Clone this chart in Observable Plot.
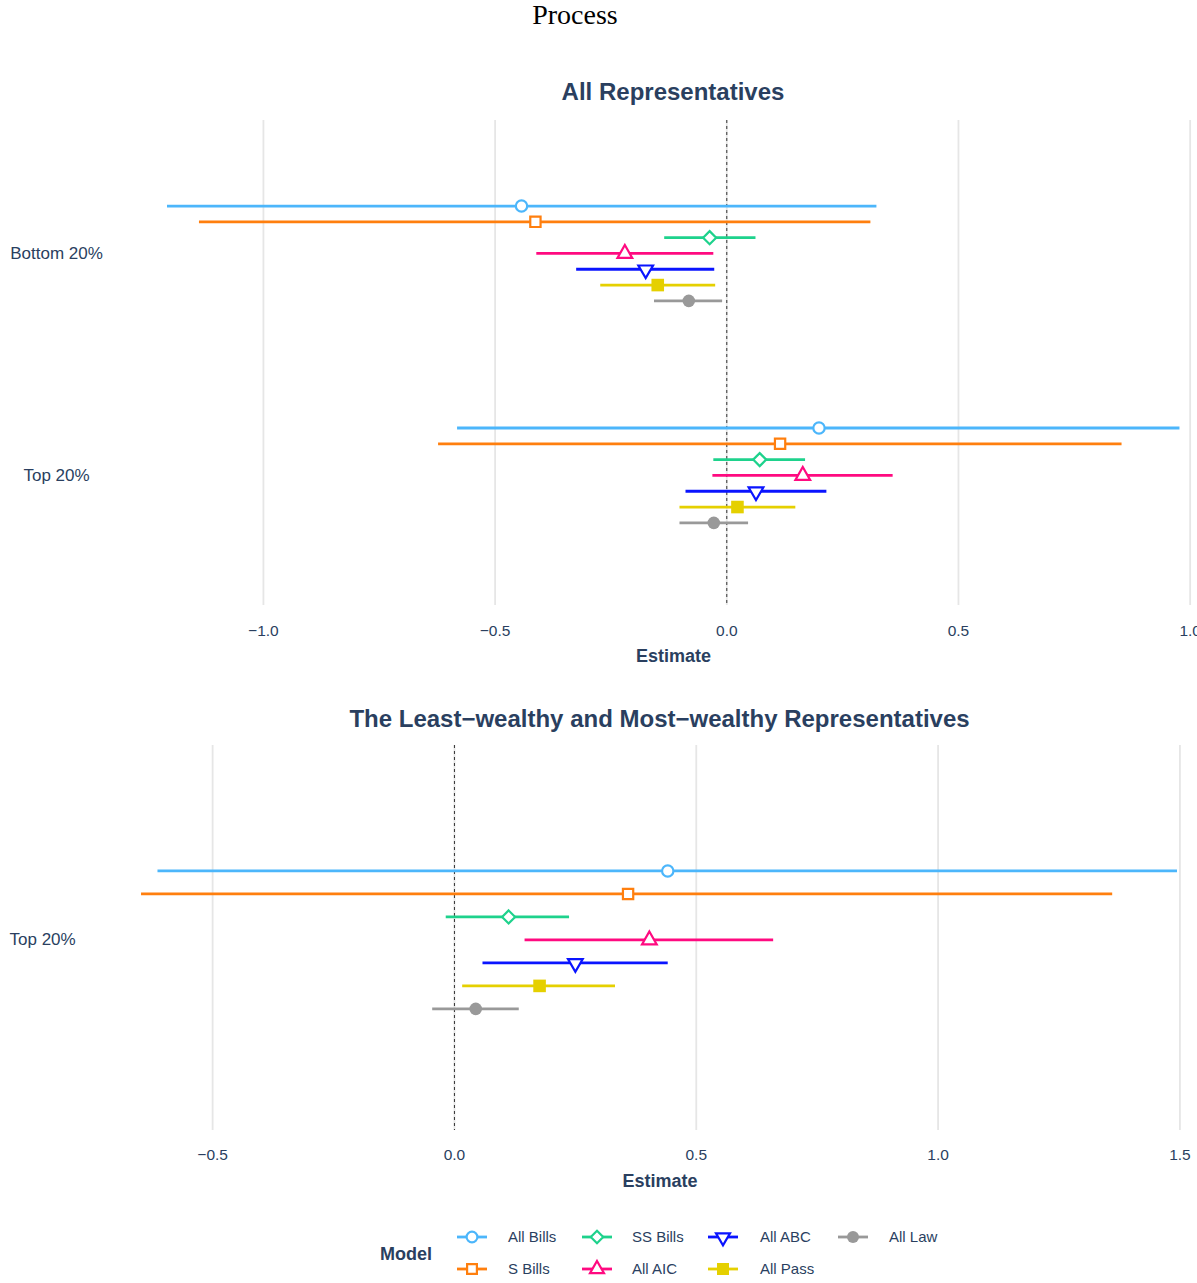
<!DOCTYPE html>
<html><head><meta charset="utf-8">
<script src="https://cdn.jsdelivr.net/npm/d3@7"></script>
<script src="https://cdn.jsdelivr.net/npm/@observablehq/plot@0.6"></script>
<style>
html,body{margin:0;padding:0;background:#fff;}
#root{position:relative;width:1197px;height:1283px;overflow:hidden;font-family:"Liberation Sans",Arial,sans-serif;color:#2a3f5f;}
.abs{position:absolute;white-space:nowrap;}
#root svg{max-width:none !important;}
</style></head><body><div id="root"></div>
<script>
// ---------- data ----------
const models = ["All Bills", "S Bills", "SS Bills", "All AIC", "All ABC", "All Pass", "All Law"];
const modelColors = ["#4cb6fb", "#ff7f0e", "#1ed28c", "#ff0a80", "#0a14ff", "#e5d000", "#999999"];
const modelShapes = ["circle", "square", "diamond", "triangleUp", "triangleDown", "filledSquare", "dot"];

// Panel 1: All Representatives
const allRepGroups = ["Bottom 20%", "Top 20%"];
const allRepBottom20Est = [-0.443, -0.413, -0.037, -0.220, -0.175, -0.149, -0.082];
const allRepBottom20Lo  = [-1.207, -1.138, -0.134, -0.410, -0.324, -0.272, -0.156];
const allRepBottom20Hi  = [ 0.324,  0.311,  0.063, -0.028, -0.026, -0.024, -0.009];
const allRepTop20Est = [ 0.199,  0.115,  0.071,  0.164,  0.063,  0.023, -0.028];
const allRepTop20Lo  = [-0.581, -0.622, -0.028, -0.030, -0.088, -0.101, -0.101];
const allRepTop20Hi  = [ 0.978,  0.853,  0.170,  0.359,  0.216,  0.149,  0.047];

// Panel 2: Least-wealthy and Most-wealthy
const wealthGroups = ["Top 20%"];
const wealthTop20Est = [ 0.441,  0.359,  0.112,  0.403,  0.250,  0.176,  0.044];
const wealthTop20Lo  = [-0.613, -0.647, -0.017,  0.146,  0.059,  0.017, -0.045];
const wealthTop20Hi  = [ 1.495,  1.361,  0.238,  0.660,  0.442,  0.333,  0.134];

const allRepTicks = [-1, -0.5, 0, 0.5, 1];
const wealthTicks = [-0.5, 0, 0.5, 1, 1.5];

// ---------- helpers ----------
const textColor = "#2a3f5f";
const fmt = d3.format(".1f");

function makeSymbol(kind) {
  return {
    draw(ctx, size) {
      const k = Math.sqrt(size / Math.PI) / 6;
      switch (kind) {
        case "circle": { const r = 5.4 * k; ctx.moveTo(r, 0); ctx.arc(0, 0, r, 0, 2 * Math.PI); break; }
        case "dot": { const r = 6 * k; ctx.moveTo(r, 0); ctx.arc(0, 0, r, 0, 2 * Math.PI); break; }
        case "square": { const h = 4.9 * k; ctx.moveTo(-h, -h); ctx.lineTo(h, -h); ctx.lineTo(h, h); ctx.lineTo(-h, h); ctx.closePath(); break; }
        case "filledSquare": { const h = 6 * k; ctx.moveTo(-h, -h); ctx.lineTo(h, -h); ctx.lineTo(h, h); ctx.lineTo(-h, h); ctx.closePath(); break; }
        case "diamond": { const h = 6.2 * k; ctx.moveTo(0, -h); ctx.lineTo(h, 0); ctx.lineTo(0, h); ctx.lineTo(-h, 0); ctx.closePath(); break; }
        case "triangleUp": { ctx.moveTo(0, -8 * k); ctx.lineTo(7 * k, 4.2 * k); ctx.lineTo(-7 * k, 4.2 * k); ctx.closePath(); break; }
        case "triangleDown": { ctx.moveTo(-7 * k, -3.6 * k); ctx.lineTo(7 * k, -3.6 * k); ctx.lineTo(0, 8.4 * k); ctx.closePath(); break; }
      }
    }
  };
}
const filled = s => s === "filledSquare" || s === "dot";

function buildRows(groups, est, lo, hi, step) {
  const rows = [];
  groups.forEach((g, gi) => {
    const gv = groups.length - 1 - gi;
    models.forEach((m, mi) => {
      rows.push({group: g, model: m, mi, est: est[gi][mi], lo: lo[gi][mi], hi: hi[gi][mi], ypos: gv - (mi - 3) * step});
    });
  });
  return rows;
}

function panel({rows, groups, ticks, xDomain, yDomain, marginLeft, plotHeight, tickPadding, yTextAnchor, yDx}) {
  const marks = [
    Plot.gridX(ticks, {stroke: "#e6e6e6", strokeOpacity: 1, strokeWidth: 1.8}),
    Plot.ruleX([0], {stroke: "#333", strokeDasharray: "3,3", strokeWidth: 1}),
    Plot.axisX(ticks, {tickFormat: fmt, tickSize: 0, tickPadding, label: null, fontSize: 15.5}),
    Plot.axisY(groups.map((g, gi) => groups.length - 1 - gi), {
      tickFormat: d => groups[groups.length - 1 - d], tickSize: 0, tickPadding: 0,
      textAnchor: yTextAnchor, dx: yDx, label: null, fontSize: 17
    })
  ];
  models.forEach((m, mi) => {
    const data = rows.filter(r => r.mi === mi);
    marks.push(Plot.ruleY(data, {y: "ypos", x1: "lo", x2: "hi", stroke: modelColors[mi], strokeWidth: 2.8}));
  });
  models.forEach((m, mi) => {
    const data = rows.filter(r => r.mi === mi);
    const shape = modelShapes[mi];
    marks.push(Plot.dot(data, {
      x: "est", y: "ypos", r: 6.3, symbol: makeSymbol(shape),
      fill: filled(shape) ? modelColors[mi] : "white",
      stroke: filled(shape) ? "none" : modelColors[mi],
      strokeWidth: 2.2
    }));
  });
  marks.push(Plot.text(["Estimate"], {frameAnchor: "bottom", dy: 56, fontSize: 18, fontWeight: "bold", fill: textColor}));
  const svg = Plot.plot({
    width: 1236, height: plotHeight + 75,
    marginLeft, marginRight: 0, marginTop: 0, marginBottom: 75,
    style: {fontFamily: '"Liberation Sans", Arial, sans-serif', fontSize: "15px", color: textColor, background: "transparent", overflow: "visible"},
    x: {domain: xDomain},
    y: {domain: yDomain},
    marks
  });
  svg.style.maxWidth = "none";
  svg.style.width = "1236px";
  svg.style.height = (plotHeight + 75) + "px";
  return svg;
}

// ---------- layout ----------
const root = document.getElementById("root");
function addText(txt, css) {
  const d = document.createElement("div");
  d.className = "abs";
  d.textContent = txt;
  Object.assign(d.style, css);
  root.appendChild(d);
  return d;
}

addText("Process", {left: "0px", width: "1150px", top: "0px", textAlign: "center", fontFamily: '"Liberation Serif", "DejaVu Serif", serif', fontSize: "28px", lineHeight: "30px", color: "#000"});

addText("All Representatives", {left: "110px", width: "1126px", top: "78px", textAlign: "center", fontSize: "24px", fontWeight: "bold", lineHeight: "28px"});

const allRows = buildRows(allRepGroups,
  [allRepBottom20Est, allRepTop20Est], [allRepBottom20Lo, allRepTop20Lo], [allRepBottom20Hi, allRepTop20Hi], 0.0712);
const p1 = panel({rows: allRows, groups: allRepGroups, ticks: allRepTicks, xDomain: [-1.33, 1.10], yDomain: [-0.586, 1.599],
  marginLeft: 110, plotHeight: 485, tickPadding: 19, yTextAnchor: "middle", yDx: -54});
p1.style.position = "absolute"; p1.style.left = "0px"; p1.style.top = "120px";
root.appendChild(p1);

addText("The Least\u2212wealthy and Most\u2212wealthy Representatives", {left: "83px", width: "1153px", top: "705px", textAlign: "center", fontSize: "24px", fontWeight: "bold", lineHeight: "28px"});

const wRows = buildRows(wealthGroups, [wealthTop20Est], [wealthTop20Lo], [wealthTop20Hi], 0.0597);
const p2 = panel({rows: wRows, groups: wealthGroups, ticks: wealthTicks, xDomain: [-0.767, 1.617], yDomain: [-0.495, 0.505],
  marginLeft: 83, plotHeight: 385, tickPadding: 18, yTextAnchor: "start", yDx: -74});
p2.style.position = "absolute"; p2.style.left = "0px"; p2.style.top = "745px";
root.appendChild(p2);

// ---------- legend ----------
addText("Model", {left: "380px", top: "1243px", fontSize: "18px", fontWeight: "bold", lineHeight: "22px"});
const colX = [472, 597, 723, 853];
const textX = [508, 632, 760, 889];
const rowY = [1237, 1269];
models.forEach((m, mi) => {
  const col = Math.floor(mi / 2), row = mi % 2;
  const svg = d3.create("svg").attr("width", 36).attr("height", 24)
    .style("position", "absolute").style("left", (colX[col] - 18) + "px").style("top", (rowY[row] - 12) + "px");
  svg.append("line").attr("x1", 3).attr("x2", 33).attr("y1", 12).attr("y2", 12)
    .attr("stroke", modelColors[mi]).attr("stroke-width", 2.8);
  const shape = modelShapes[mi];
  svg.append("path").attr("transform", "translate(18,12)")
    .attr("d", d3.symbol(makeSymbol(shape), 36 * Math.PI)())
    .attr("fill", filled(shape) ? modelColors[mi] : "white")
    .attr("stroke", filled(shape) ? "none" : modelColors[mi])
    .attr("stroke-width", 2.2);
  root.appendChild(svg.node());
  addText(m, {left: textX[col] + "px", top: (rowY[row] - 9) + "px", fontSize: "15px", lineHeight: "18px"});
});
</script>
</body></html>
